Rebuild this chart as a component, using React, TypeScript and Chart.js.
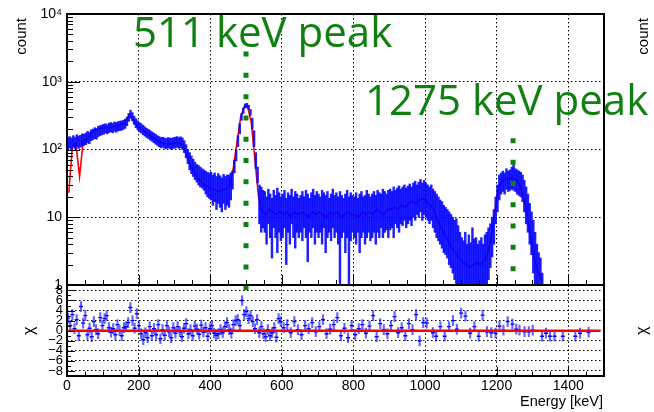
import React, { useEffect, useRef } from 'react';
import { Chart, registerables } from 'chart.js';
Chart.register(...registerables);

// ---------- axes ----------
const energyTicks = [0, 200, 400, 600, 800, 1000, 1200, 1400];
const energyTickLabels = ['0', '200', '400', '600', '800', '1000', '1200', '1400'];
const countTicks = [1, 10, 100, 1000, 10000];
const countTickLabels = ['1', '10', '10²', '10³', '10⁴'];
const chiTicks = [-8, -6, -4, -2, 0, 2, 4, 6, 8];
const chiTickLabels = ['−8', '−6', '−4', '−2', '0', '2', '4', '6', '8'];
const xTitle = 'Energy [keV]';
const yTitleTop = 'count';
const yTitleBottom = 'χ';

// ---------- spectrum (5 keV bins, band low/high per bin) ----------
const binWidth = 5;
const specHi = [
  150, 155, 148, 160, 152, 165, 158, 162, 170, 168,
  175, 185, 180, 195, 200, 210, 205, 220, 225, 230,
  235, 240, 232, 245, 250, 242, 255, 250, 258, 262,
  265, 270, 280, 300, 340, 380, 350, 310, 285, 265,
  250, 240, 228, 215, 205, 198, 190, 182, 175, 168,
  160, 155, 150, 152, 148, 145, 150, 148, 146, 150,
  152, 155, 150, 154, 148, 135, 118, 100, 90, 80,
  72, 65, 60, 58, 55, 52, 50, 48, 46, 45,
  46, 42, 45, 40, 44, 41, 38, 43, 40, 42,
  42, 45, 48, 70, 100, 160, 240, 340, 410, 470,
  480, 450, 390, 290, 190, 90, 55, 30, 28, 25,
  24, 20, 26, 22, 19, 25, 21, 27, 23, 20,
  22, 25, 19, 23, 21, 26, 20, 24, 22, 19,
  21, 24, 20, 25, 22, 19, 23, 26, 21, 24,
  22, 20, 25, 23, 21, 24, 19, 22, 26, 21,
  23, 20, 24, 21, 19, 22, 25, 20, 23, 21,
  20, 23, 19, 22, 24, 20, 21, 25, 22, 20,
  22, 24, 21, 25, 23, 22, 26, 24, 22, 25,
  26, 24, 28, 25, 27, 29, 26, 28, 30, 27,
  29, 31, 28, 32, 34, 30, 33, 36, 32, 35,
  32, 30, 28, 30, 26, 24, 22, 20, 18, 17,
  15, 14, 13, 12, 11, 10, 9, 9.5, 7.5, 6,
  5, 4.5, 6, 4, 5.5, 4.2, 7, 4.8, 5, 4,
  4.5, 5, 4, 5.5, 6, 7, 8, 10, 13, 20,
  30, 42, 45, 48, 45, 52, 48, 50, 55, 60,
  52, 50, 48, 46, 42, 35, 28, 22, 16, 12,
  9, 6, 4, 3, 2.5, 1.5,
];
const specLo = [
  100, 105, 98, 108, 102, 110, 104, 108, 112, 115,
  118, 125, 122, 135, 140, 145, 142, 155, 160, 165,
  168, 175, 170, 178, 182, 176, 185, 180, 188, 190,
  192, 198, 205, 225, 260, 290, 265, 235, 210, 195,
  182, 175, 165, 158, 150, 145, 138, 132, 126, 120,
  115, 110, 106, 108, 104, 102, 106, 103, 100, 104,
  105, 108, 104, 106, 100, 90, 75, 62, 50, 44,
  40, 36, 33, 30, 28, 27, 25, 22, 20, 19,
  18, 15, 17, 13, 16, 14, 12, 16, 13, 15,
  14, 18, 26, 45, 68, 110, 170, 270, 340, 410,
  420, 390, 320, 200, 110, 52, 32, 8, 6, 7,
  6, 4, 8, 5, 2.5, 7, 5, 3, 6, 4.5,
  5, 7, 2, 6, 4, 8, 5, 3.5, 6, 5,
  6, 4.5, 7, 5, 2.2, 6, 5, 7, 4, 6,
  5, 6, 4, 7, 3, 5, 6, 4.5, 7, 5,
  6, 4, 0.9, 5, 6, 3, 5, 0.9, 4.5, 6,
  5, 4, 6, 3, 5, 6, 4, 5, 6, 4.5,
  5, 6, 4, 6, 5, 7, 5, 6, 6.5, 5,
  6.5, 7, 5, 8, 7, 6, 8, 7.5, 9, 7,
  8, 9, 7.5, 10, 9, 11, 10, 12, 9, 11,
  10, 9, 8, 9, 7, 6, 5, 4.5, 4, 3.5,
  3, 2.8, 2.5, 2, 1.8, 1.5, 1.2, 0.9, 0.9, 0.9,
  0.9, 0.9, 0.9, 0.9, 0.9, 0.9, 0.9, 0.9, 0.9, 0.9,
  0.9, 0.9, 0.9, 0.9, 0.9, 1.2, 1.8, 2.6, 4, 8,
  12, 18, 22, 24, 22, 26, 24, 25, 26, 25,
  24, 22, 21, 20, 17, 12, 8, 6, 4, 2.8,
  1.5, 1, 0.9, 0.9, 0.9, 0.9,
];

// ---------- red model (10 keV steps starting at 5 keV) ----------
const fitStart = 5;
const fitStep = 10;
const fitCounts = [
  23, 110, 122, 40, 128, 142, 162, 186, 198, 205,
  210, 206, 215, 220, 226, 236, 268, 325, 268, 225,
  205, 186, 170, 156, 144, 131, 126, 122, 120, 122,
  125, 124, 110, 80, 58, 47, 38, 33, 30, 28,
  26, 25, 24, 25, 26, 30, 55, 130, 300, 430,
  420, 245, 70, 20, 12, 11, 13, 12, 11, 12,
  11, 12, 10, 12, 11, 12, 11, 10, 12, 11,
  12, 11, 10, 12, 11, 12, 10, 11, 12, 11,
  11, 10, 12, 11, 12, 11, 13, 12, 11, 13,
  13, 14, 13, 15, 14, 16, 17, 16, 18, 19,
  17, 15, 13, 9, 7, 5.5, 4.5, 3.5, 3, 2.5,
  2.2, 2, 1.8, 2, 2.1, 2, 2.2, 3, 5, 12,
  28, 34, 36, 37, 38, 36, 30, 20, 11, 5,
  2.5, 1.6, 1.2,
];

// ---------- peak markers ----------
const peakLabels = ['511 keV peak', '1275 keV peak'];
const peakMarkerEnergy = [500, 1246];
const peakMarkerTop = [2790, 146];
const peakMarkerBottom = [0.84, 1.57];

// ---------- residuals (chi) ----------
const residLowStart = 3;
const residLowStep = 6;
const residLow = [
  2.5, 1.0, 3.2, 0.4, 2.2, -1.0, 4.8, 1.5, 3.0, -0.8,
  0.5, -1.2, 1.8, 0.2, -0.6, 2.6, 1.0, 2.4, 3.0, 0.6,
  -0.3, 0.4, -0.8, 1.2, 0.0, -1.0, 0.6, 0.8, 1.6, 4.6,
  2.0, 0.5, 3.4, 1.0, -0.6, -1.8, -0.4, -1.4, 0.8, -1.0,
  0.4, -0.8, 1.2, -1.6, 0.2, -0.9, 1.0, -0.2, -1.4, 0.6,
  -0.5, 0.8, -0.2, -1.2, 0.5, 1.4, -0.6, 0.2, -1.0, 0.9,
  0.3, -0.7, 1.1, -0.3, 0.6, -1.1, 0.4, 1.0, -0.5, -0.9,
  -0.6, 0.2, -0.4, 0.8, 1.6, 0.2, -0.5, 1.2, 2.0, 2.2,
  1.0, 6.0, 3.2, 3.8, 2.4, 3.0, 1.8, 0.4, 2.2, -0.4,
  0.8, -0.6, -1.2, 0.2, -1.0, -0.4, 0.6, -1.3, 2.4, 1.8,
];
const residMidStart = 605;
const residMidStep = 10;
const residMid = [
  0.6, 1.2, -0.4, 1.8, 0.2, -0.8, 1.0, 0.4, 1.6, -0.2,
  0.8, 2.2, -0.6, 0.3, 1.2, 2.6, -1.0, 0.5, -1.4, 1.0,
  -0.8, 0.4, 1.2, -0.5, 0.9, 3.0, -1.2, 1.4, 0.2, -0.6,
  1.0, 2.8, -0.4, 0.6, -1.0, 1.4, 0.2, 3.2, -2.0, 1.6,
];
const residHighEnergy = [
  1005, 1022, 1031, 1043, 1055, 1067, 1078, 1089, 1101, 1113,
  1126, 1138, 1150, 1161, 1173, 1185, 1197, 1208, 1219, 1231,
  1244, 1255, 1264, 1278, 1290, 1301, 1327, 1338, 1349, 1362,
  1385, 1420, 1433, 1457,
];
const residHigh = [
  1.5, -0.4, -1.1, 0.8, -1.1, 0.8, 2.0, 0.3, 3.5, 2.9,
  -0.5, 0.8, -1.1, 3.1, -0.2, -0.4, -0.5, 0.9, 0.1, 1.8,
  1.3, 0.3, 0.1, -0.2, -0.2, 0.1, -1.1, -0.5, -1.1, -1.1,
  -1.1, -1.1, -0.5, -0.3,
];
const residZeroRange = [5, 1490];

// ---------- styling ----------
const FONT = '"Liberation Sans", Arial, Helvetica, sans-serif';
const GREEN = 'rgb(16,128,16)';
const DOTS = [1.5, 2.5];

function crisp(v: number) {
  return Math.round(v) + 0.5;
}

const topDecor = {
  id: 'topDecor',
  afterDraw(chart: any) {
    const { ctx, chartArea: a, scales } = chart;
    const x = scales.x;
    const y = scales.y;
    ctx.save();
    ctx.strokeStyle = '#000';
    ctx.lineWidth = 1;
    ctx.beginPath();
    for (let d = 1; d <= 10000; d *= 10) {
      for (let m = 1; m < 10; m++) {
        const v = d * m;
        if (v > 10000) break;
        const py = crisp(y.getPixelForValue(v));
        const len = m === 1 ? 13 : 6;
        ctx.moveTo(a.left, py);
        ctx.lineTo(a.left + len, py);
      }
    }
    for (let e = 0; e <= 1500; e += 50) {
      const px = crisp(x.getPixelForValue(e));
      const len = e % 200 === 0 ? 10 : 5;
      ctx.moveTo(px, a.bottom);
      ctx.lineTo(px, a.bottom - len);
    }
    ctx.stroke();
    ctx.lineWidth = 2;
    ctx.strokeRect(Math.round(a.left), Math.round(a.top), Math.round(a.right - a.left), Math.round(a.bottom - a.top));

    // axis titles (left + cut-off right neighbour)
    ctx.fillStyle = '#000';
    ctx.font = '15px ' + FONT;
    for (const bx of [25.5, 648]) {
      ctx.save();
      ctx.translate(bx, 18);
      ctx.rotate(-Math.PI / 2);
      ctx.textAlign = 'right';
      ctx.textBaseline = 'alphabetic';
      ctx.fillText(yTitleTop, 0, 0);
      ctx.restore();
    }

    // peak annotations
    ctx.fillStyle = GREEN;
    ctx.font = '42px "Open Sans", "Noto Sans", sans-serif';
    ctx.textAlign = 'left';
    ctx.textBaseline = 'alphabetic';
    ctx.fillText(peakLabels[0], 133, 47);
    ctx.fillText(peakLabels[1], 365, 115);
    ctx.restore();
  },
};

const bottomDecor = {
  id: 'bottomDecor',
  afterDraw(chart: any) {
    const { ctx, chartArea: a, scales } = chart;
    const x = scales.x;
    const y = scales.y;
    ctx.save();
    ctx.strokeStyle = '#000';
    ctx.lineWidth = 1;
    ctx.beginPath();
    for (let v = -9; v <= 9; v++) {
      const py = crisp(y.getPixelForValue(v));
      const len = v % 2 === 0 ? 8 : 4;
      ctx.moveTo(a.left, py);
      ctx.lineTo(a.left + len, py);
    }
    for (let e = 0; e <= 1500; e += 50) {
      const px = crisp(x.getPixelForValue(e));
      const len = e % 200 === 0 ? 9 : 4.5;
      ctx.moveTo(px, a.bottom);
      ctx.lineTo(px, a.bottom - len);
    }
    ctx.stroke();
    ctx.lineWidth = 2;
    ctx.strokeRect(Math.round(a.left), Math.round(a.top), Math.round(a.right - a.left), Math.round(a.bottom - a.top));

    ctx.fillStyle = '#000';
    ctx.font = '16px ' + FONT;
    const cy = y.getPixelForValue(0);
    for (const bx of [34, 647]) {
      ctx.save();
      ctx.translate(bx, cy);
      ctx.rotate(-Math.PI / 2);
      ctx.textAlign = 'center';
      ctx.textBaseline = 'alphabetic';
      ctx.fillText(yTitleBottom, 0, 0);
      ctx.restore();
    }
    ctx.font = '14.5px ' + FONT;
    ctx.textAlign = 'right';
    ctx.textBaseline = 'alphabetic';
    ctx.fillText(xTitle, a.right - 1, a.bottom + 30);
    ctx.restore();
  },
};

function energyAxis(showLabels: boolean, height: number) {
  return {
    type: 'linear',
    min: 0,
    max: 1500,
    offset: false,
    grid: {
      offset: false,
      drawTicks: false,
      lineWidth: 1,
      color: (c: any) => (c.tick && c.tick.value > 0 ? '#000' : 'rgba(0,0,0,0)'),
    },
    border: { display: false, dash: DOTS },
    ticks: {
      display: showLabels,
      autoSkip: false,
      maxRotation: 0,
      padding: 2,
      color: '#000',
      font: { family: FONT, size: 14 },
      callback: (v: any) => {
        const i = energyTicks.indexOf(Number(v));
        return i >= 0 ? energyTickLabels[i] : '';
      },
    },
    afterBuildTicks: (s: any) => {
      s.ticks = energyTicks.map((v) => ({ value: v }));
    },
    afterFit: (s: any) => {
      s.height = height;
      s.paddingLeft = 0;
      s.paddingRight = 0;
    },
  };
}

function topConfig(): any {
  const spec = specHi.map((h, i) => ({ x: (i + 0.5) * binWidth, y: [specLo[i], h] }));
  const fit = fitCounts.map((v, i) => ({ x: fitStart + i * fitStep, y: v }));
  const logTicks: number[] = [];
  for (let d = 1; d <= 10000; d *= 10) {
    for (let m = 1; m < 10; m++) {
      if (d * m <= 10000) logTicks.push(d * m);
    }
  }
  const markerSets = peakMarkerEnergy.map((e, i) => ({
    type: 'line',
    data: [
      { x: e, y: peakMarkerTop[i] },
      { x: e, y: peakMarkerBottom[i] },
    ],
    borderColor: GREEN,
    borderWidth: 5,
    borderDash: [5, 16.3],
    borderCapStyle: 'butt',
    pointRadius: 0,
    clip: false,
    order: 0,
  }));
  return {
    type: 'bar',
    data: {
      datasets: [
        ...markerSets,
        {
          type: 'bar',
          data: spec,
          backgroundColor: 'rgba(0,0,255,0.88)',
          borderWidth: 0,
          barThickness: 1.8,
          grouped: false,
          order: 1,
        },
        {
          type: 'line',
          data: fit,
          borderColor: '#ff0000',
          borderWidth: 1.6,
          pointRadius: 0,
          tension: 0,
          order: 2,
        },
      ],
    },
    options: {
      animation: false,
      responsive: false,
      maintainAspectRatio: false,
      layout: { padding: { left: 0, right: 50, top: 14, bottom: 15 } },
      plugins: { legend: { display: false }, tooltip: { enabled: false } },
      scales: {
        x: energyAxis(false, 0),
        y: {
          type: 'logarithmic',
          min: 1,
          max: 10000,
          grid: {
            drawTicks: false,
            lineWidth: 1,
            color: (c: any) =>
              c.tick && [10, 100, 1000].includes(Math.round(c.tick.value)) ? '#000' : 'rgba(0,0,0,0)',
          },
          border: { display: false, dash: DOTS },
          ticks: {
            autoSkip: false,
            padding: 5,
            color: '#000',
            font: { family: FONT, size: 14 },
            callback: (v: any) => {
              const i = countTicks.indexOf(Math.round(Number(v)));
              return i >= 0 ? countTickLabels[i] : '';
            },
          },
          afterBuildTicks: (s: any) => {
            s.ticks = logTicks.map((v) => ({ value: v }));
          },
          afterFit: (s: any) => {
            s.width = 67;
            s.paddingTop = 0;
            s.paddingBottom = 0;
          },
        },
      },
    },
    plugins: [topDecor],
  };
}

function bottomConfig(): any {
  const pts: { x: number; y: number }[] = [];
  residLow.forEach((v, i) => pts.push({ x: residLowStart + i * residLowStep, y: v }));
  residMid.forEach((v, i) => pts.push({ x: residMidStart + i * residMidStep, y: v }));
  residHigh.forEach((v, i) => pts.push({ x: residHighEnergy[i], y: v }));
  const errs = pts.map((p) => ({ x: p.x, y: [p.y - 1, p.y + 1] }));
  return {
    type: 'bar',
    data: {
      datasets: [
        {
          type: 'line',
          data: residZeroRange.map((e) => ({ x: e, y: 0 })),
          borderColor: '#ff0000',
          borderWidth: 2.5,
          pointRadius: 0,
          order: 0,
        },
        {
          type: 'line',
          data: pts,
          showLine: false,
          pointStyle: 'line',
          pointRadius: 2,
          pointBorderColor: '#0000ff',
          pointBorderWidth: 1.4,
          borderColor: '#0000ff',
          order: 1,
        },
        {
          type: 'bar',
          data: errs,
          backgroundColor: 'rgba(0,0,255,0.6)',
          borderWidth: 0,
          barThickness: 1.5,
          grouped: false,
          order: 2,
        },
      ],
    },
    options: {
      animation: false,
      responsive: false,
      maintainAspectRatio: false,
      layout: { padding: { left: 0, right: 50, top: 5, bottom: 0 } },
      plugins: { legend: { display: false }, tooltip: { enabled: false } },
      scales: {
        x: energyAxis(true, 36),
        y: {
          type: 'linear',
          min: -9,
          max: 9,
          grid: { drawTicks: false, lineWidth: 1, color: '#000' },
          border: { display: false, dash: DOTS },
          ticks: {
            autoSkip: false,
            padding: 4,
            color: '#000',
            font: { family: FONT, size: 13 },
            callback: (v: any) => {
              const i = chiTicks.indexOf(Math.round(Number(v)));
              return i >= 0 ? chiTickLabels[i] : '';
            },
          },
          afterBuildTicks: (s: any) => {
            s.ticks = chiTicks.map((v) => ({ value: v }));
          },
          afterFit: (s: any) => {
            s.width = 67;
            s.paddingTop = 0;
            s.paddingBottom = 0;
          },
        },
      },
    },
    plugins: [bottomDecor],
  };
}

export default function App() {
  const topRef = useRef<HTMLCanvasElement>(null);
  const botRef = useRef<HTMLCanvasElement>(null);
  useEffect(() => {
    const top = new Chart(topRef.current as HTMLCanvasElement, topConfig());
    const bot = new Chart(botRef.current as HTMLCanvasElement, bottomConfig());
    return () => {
      top.destroy();
      bot.destroy();
    };
  }, []);
  return (
    <div
      style={{
        position: 'fixed',
        left: 0,
        top: 0,
        width: 654,
        height: 412,
        background: '#fff',
        overflow: 'hidden',
      }}
    >
      <canvas ref={botRef} width={654} height={132} style={{ position: 'absolute', left: 0, top: 280 }} />
      <canvas ref={topRef} width={654} height={300} style={{ position: 'absolute', left: 0, top: 0 }} />
    </div>
  );
}
